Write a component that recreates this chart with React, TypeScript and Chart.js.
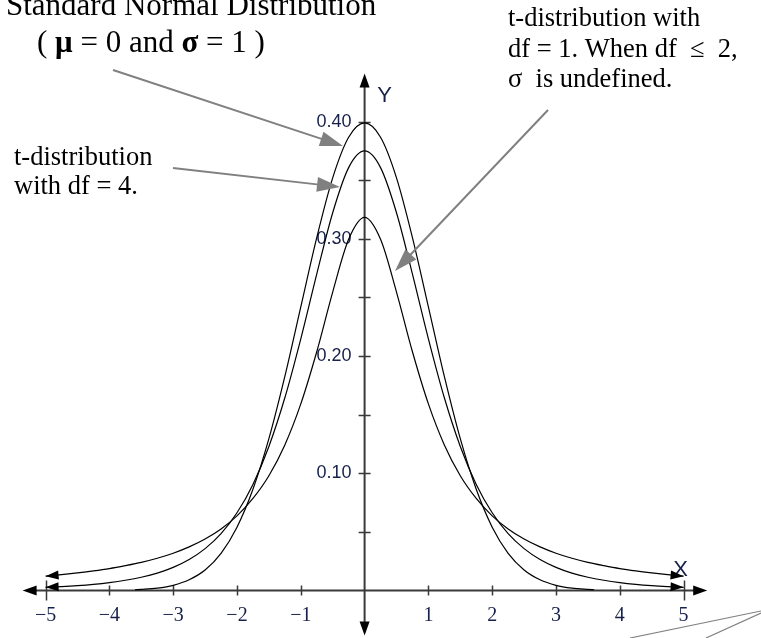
import React, { useEffect, useRef } from "react";
import { Chart, registerables } from "chart.js";

Chart.register(...registerables);

// Sample points (x step 0.25) for the two t-distribution curves
const xGrid = [
  -5, -4.75, -4.5, -4.25, -4, -3.75, -3.5, -3.25, -3, -2.75, -2.5, -2.25, -2, -1.75, -1.5, -1.25, -1,
  -0.75, -0.5, -0.25, 0, 0.25, 0.5, 0.75, 1, 1.25, 1.5, 1.75, 2, 2.25, 2.5, 2.75, 3, 3.25, 3.5, 3.75,
  4, 4.25, 4.5, 4.75, 5,
];

// t-distribution, df = 1
const tDf1 = [
  0.0122, 0.0135, 0.015, 0.0167, 0.0187, 0.0212, 0.024, 0.0275, 0.0318, 0.0372, 0.0439, 0.0525, 0.0637,
  0.0785, 0.0979, 0.1242, 0.1592, 0.2037, 0.2546, 0.2996, 0.3183, 0.2996, 0.2546, 0.2037, 0.1592, 0.1242,
  0.0979, 0.0785, 0.0637, 0.0525, 0.0439, 0.0372, 0.0318, 0.0275, 0.024, 0.0212, 0.0187, 0.0167, 0.015,
  0.0135, 0.0122,
];

// t-distribution, df = 4
const tDf4 = [
  0.0027, 0.0033, 0.0041, 0.0052, 0.0067, 0.0087, 0.0113, 0.0148, 0.0197, 0.0264, 0.0357, 0.0485, 0.0663,
  0.0905, 0.1229, 0.1644, 0.2147, 0.2699, 0.3223, 0.3608, 0.375, 0.3608, 0.3223, 0.2699, 0.2147, 0.1644,
  0.1229, 0.0905, 0.0663, 0.0485, 0.0357, 0.0264, 0.0197, 0.0148, 0.0113, 0.0087, 0.0067, 0.0052, 0.0041,
  0.0033, 0.0027,
];

// Standard normal curve (drawn only where it is above the axis)
const normalX = [
  -3.6, -3.5, -3.25, -3, -2.75, -2.5, -2.25, -2, -1.75, -1.5, -1.25, -1, -0.75, -0.5, -0.25, 0, 0.25, 0.5,
  0.75, 1, 1.25, 1.5, 1.75, 2, 2.25, 2.5, 2.75, 3, 3.25, 3.5, 3.6,
];
const normalY = [
  0.0006, 0.0009, 0.002, 0.0044, 0.0091, 0.0175, 0.0317, 0.054, 0.0863, 0.1295, 0.1826, 0.242, 0.3011,
  0.3521, 0.3867, 0.3989, 0.3867, 0.3521, 0.3011, 0.242, 0.1826, 0.1295, 0.0863, 0.054, 0.0317, 0.0175,
  0.0091, 0.0044, 0.002, 0.0009, 0.0006,
];

const xTicks = [-5, -4, -3, -2, -1, 1, 2, 3, 4, 5];
const xTickLabels = ["−5", "−4", "−3", "−2", "−1", "1", "2", "3", "4", "5"];
const yMinorTicks = [0.05, 0.1, 0.15, 0.2, 0.25, 0.3, 0.35, 0.4];
const yLabelTicks = [0.1, 0.2, 0.3, 0.4];
const yTickLabels = ["0.10", "0.20", "0.30", "0.40"];

const SERIF = "'Liberation Serif', 'Times New Roman', serif";
const SANS = "'Liberation Sans', Arial, sans-serif";
const LABEL_COLOR = "#16204a";
const GRAY = "#808080";

function toPoints(xs: number[], ys: number[]) {
  return xs.map((x, i) => ({ x, y: ys[i] }));
}

function filledArrow(
  ctx: CanvasRenderingContext2D,
  fromX: number,
  fromY: number,
  tipX: number,
  tipY: number,
  len: number,
  half: number,
  color: string
) {
  const ang = Math.atan2(tipY - fromY, tipX - fromX);
  const bx = tipX - len * Math.cos(ang);
  const by = tipY - len * Math.sin(ang);
  const nx = -Math.sin(ang);
  const ny = Math.cos(ang);
  ctx.fillStyle = color;
  ctx.beginPath();
  ctx.moveTo(tipX, tipY);
  ctx.lineTo(bx + nx * half, by + ny * half);
  ctx.lineTo(bx - nx * half, by - ny * half);
  ctx.closePath();
  ctx.fill();
}

function pointerArrow(
  ctx: CanvasRenderingContext2D,
  x1: number,
  y1: number,
  x2: number,
  y2: number
) {
  const ang = Math.atan2(y2 - y1, x2 - x1);
  const len = 23;
  ctx.strokeStyle = GRAY;
  ctx.lineWidth = 2;
  ctx.beginPath();
  ctx.moveTo(x1, y1);
  ctx.lineTo(x2 - (len - 2) * Math.cos(ang), y2 - (len - 2) * Math.sin(ang));
  ctx.stroke();
  filledArrow(ctx, x1, y1, x2, y2, len, 7.5, GRAY);
}

// Axes through the origin, with arrow tips and crossing tick marks
const axesPlugin = {
  id: "originAxes",
  beforeDatasetsDraw(chart: any) {
    const ctx: CanvasRenderingContext2D = chart.ctx;
    const xs = chart.scales.x;
    const ys = chart.scales.y;
    const x0 = xs.getPixelForValue(0);
    const y0 = ys.getPixelForValue(0);
    const left = xs.getPixelForValue(-5.36);
    const right = xs.getPixelForValue(5.37);
    const top = ys.getPixelForValue(0.441);
    const bottom = ys.getPixelForValue(-0.0385);
    ctx.save();
    ctx.strokeStyle = "#3a3a3a";
    ctx.lineWidth = 2;
    ctx.beginPath();
    ctx.moveTo(left + 10, y0);
    ctx.lineTo(right - 10, y0);
    ctx.moveTo(x0, top + 10);
    ctx.lineTo(x0, bottom - 10);
    ctx.stroke();
    filledArrow(ctx, x0, y0, left, y0, 14, 5, "#000");
    filledArrow(ctx, x0, y0, right, y0, 14, 5, "#000");
    filledArrow(ctx, x0, y0, x0, top, 14, 5, "#000");
    filledArrow(ctx, x0, y0, x0, bottom, 14, 5, "#000");

    ctx.lineWidth = 1.5;
    ctx.beginPath();
    xTicks.forEach((v) => {
      const px = Math.round(xs.getPixelForValue(v)) + 0.5;
      const h = Math.abs(v) === 5 ? 10 : 5;
      ctx.moveTo(px, y0 - h);
      ctx.lineTo(px, y0 + h);
    });
    yMinorTicks.forEach((v) => {
      const py = Math.round(ys.getPixelForValue(v)) + 0.5;
      ctx.moveTo(x0 - 6, py);
      ctx.lineTo(x0 + 6, py);
    });
    ctx.stroke();

    ctx.fillStyle = LABEL_COLOR;
    ctx.font = `20px ${SERIF}`;
    ctx.textAlign = "center";
    ctx.textBaseline = "alphabetic";
    xTicks.forEach((v, i) => {
      ctx.fillText(xTickLabels[i], xs.getPixelForValue(v), y0 + 31);
    });
    ctx.font = `18px ${SANS}`;
    ctx.textAlign = "right";
    ctx.textBaseline = "middle";
    yLabelTicks.forEach((v, i) => {
      ctx.fillText(yTickLabels[i], x0 - 13, ys.getPixelForValue(v));
    });
    ctx.font = `22px ${SANS}`;
    ctx.textAlign = "center";
    ctx.fillText("Y", x0 + 20, top + 22);
    ctx.fillText("X", xs.getPixelForValue(5) - 3, y0 - 21);
    ctx.restore();
  },
  afterDatasetsDraw(chart: any) {
    const ctx: CanvasRenderingContext2D = chart.ctx;
    const xs = chart.scales.x;
    const ys = chart.scales.y;
    ctx.save();
    // arrow tips at the ends of the t curves
    [tDf1, tDf4].forEach((vals) => {
      const n = vals.length;
      const lx = xs.getPixelForValue(xGrid[0]);
      const ly = ys.getPixelForValue(vals[0]);
      const lx2 = xs.getPixelForValue(xGrid[1]);
      const ly2 = ys.getPixelForValue(vals[1]);
      filledArrow(ctx, lx2, ly2, lx, ly, 13, 4.5, "#000");
      const rx = xs.getPixelForValue(xGrid[n - 1]);
      const ry = ys.getPixelForValue(vals[n - 1]);
      const rx2 = xs.getPixelForValue(xGrid[n - 2]);
      const ry2 = ys.getPixelForValue(vals[n - 2]);
      filledArrow(ctx, rx2, ry2, rx, ry, 13, 4.5, "#000");
    });

    // annotations
    ctx.fillStyle = "#000";
    ctx.textAlign = "left";
    ctx.textBaseline = "alphabetic";
    ctx.font = `31px ${SERIF}`;
    ctx.fillText("Standard Normal Distribution", 6, 15);
    const parts: [string, boolean][] = [
      ["( ", false],
      ["μ", true],
      [" = 0 and ", false],
      ["σ", true],
      [" = 1 )", false],
    ];
    let cx = 37;
    parts.forEach(([s, bold]) => {
      ctx.font = `${bold ? "bold " : ""}31px ${SERIF}`;
      ctx.fillText(s, cx, 52);
      cx += ctx.measureText(s).width;
    });

    ctx.font = `26.5px ${SERIF}`;
    ctx.fillText("t-distribution", 14, 165);
    ctx.fillText("with df = 4.", 14, 194);

    ctx.fillText("t-distribution with", 508, 26);
    ctx.fillText("df = 1. When df  ≤  2,", 508, 57);
    ctx.fillText("σ  is undefined.", 508, 87);

    pointerArrow(ctx, 113, 70, 343, 146);
    pointerArrow(ctx, 173, 168, 340, 187);
    pointerArrow(ctx, 548, 110, 395, 271);

    ctx.strokeStyle = GRAY;
    ctx.lineWidth = 1.2;
    ctx.beginPath();
    ctx.moveTo(761, 611);
    ctx.lineTo(630, 638);
    ctx.moveTo(761, 613);
    ctx.lineTo(706, 638);
    ctx.stroke();
    ctx.restore();
  },
};

export default function App() {
  const canvasRef = useRef<HTMLCanvasElement | null>(null);

  useEffect(() => {
    const canvas = canvasRef.current;
    if (!canvas) return;
    const lineStyle = {
      borderColor: "#000",
      borderWidth: 1.2,
      pointRadius: 0,
      fill: false,
      cubicInterpolationMode: "monotone" as const,
    };
    const chart = new Chart(canvas, {
      type: "line",
      data: {
        datasets: [
          { label: "Standard normal", data: toPoints(normalX, normalY), ...lineStyle },
          { label: "t, df = 4", data: toPoints(xGrid, tDf4), ...lineStyle },
          { label: "t, df = 1", data: toPoints(xGrid, tDf1), ...lineStyle },
        ],
      },
      options: {
        animation: false,
        responsive: false,
        devicePixelRatio: 1,
        layout: { padding: { left: 7, right: 39, top: 4, bottom: 1 } },
        plugins: { legend: { display: false }, tooltip: { enabled: false } },
        scales: {
          x: { type: "linear", min: -5.605, max: 5.602, display: false },
          y: { type: "linear", min: -0.0397, max: 0.5004, display: false },
        },
      },
      plugins: [axesPlugin],
    });
    return () => chart.destroy();
  }, []);

  return (
    <div style={{ position: "absolute", left: 0, top: 0, width: 761, height: 638, background: "#fff" }}>
      <canvas ref={canvasRef} width={761} height={638} />
    </div>
  );
}
